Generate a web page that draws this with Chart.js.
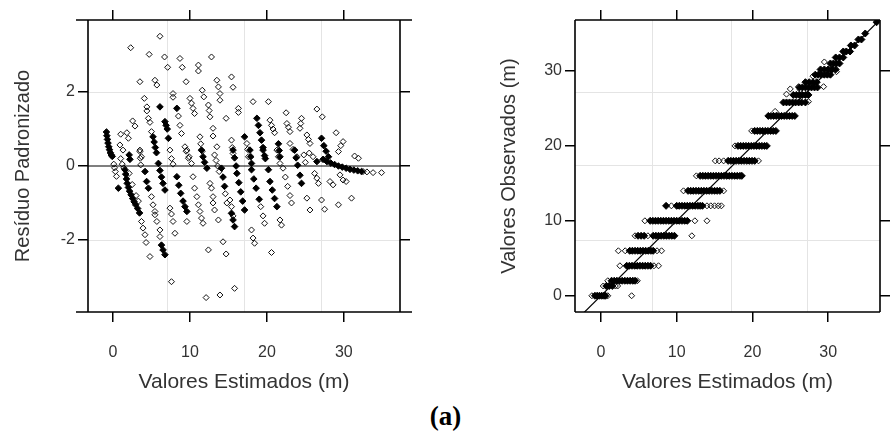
<!DOCTYPE html>
<html lang="pt">
<head>
<meta charset="UTF-8">
<title>Resíduos e valores observados</title>
<script src="https://cdn.jsdelivr.net/npm/chart.js"></script>
<style>
  body { margin: 0; background: #fff; }
  #wrap { position: relative; width: 891px; height: 445px; }
  #left { position: absolute; left: 0; top: 0; }
  #right { position: absolute; left: 445px; top: 0; }
  #caption { position: absolute; left: 0; width: 891px; top: 401px; text-align: center;
             font: bold 27px "Liberation Serif", "Times New Roman", serif; color: #000; }
</style>
</head>
<body>
<div id="wrap">
  <canvas id="left" width="445" height="400"></canvas>
  <canvas id="right" width="446" height="400"></canvas>
  <div id="caption">(a)</div>
</div>

<script>
// ticks and grid positions
const xTicks = [0, 10, 20, 30];
const resTicks = [-2, 0, 2];
const obsTicks = [0, 10, 20, 30];
const resGridX = [7, 17, 27];
const resGridY = [-2, 2];
const obsGridX = [6.8, 17.2, 27.2];
const obsGridY = [7.4, 17.4, 27.2];

// reference lines
const zeroLine = [[-5, 0], [40, 0]];
const oneToOne = [[-5, -5], [40, 40]];

// residuos padronizados: [valor estimado, residuo] (blocos densos)
const resDense = [
  [-0.85,0.92],[-0.8,0.82],[-0.72,0.72],[-0.65,0.62],[-0.55,0.52],[-0.45,0.44],[-0.35,0.36],[-0.22,0.3],[-0.1,0.26],
  [0.7,-0.6],[2.1,0.3],[2.2,0.18],
  [1.55,-0.1],[1.65,-0.22],[1.75,-0.35],[1.85,-0.47],[2.0,-0.58],[2.15,-0.68],[2.35,-0.78],[2.55,-0.88],[2.75,-0.97],[2.95,-1.05],[3.2,-1.15],[3.45,-1.27],
  [4.16,-0.15],[4.37,-0.42],[4.6,-0.6],
  [6.1,1.6],[6.75,1.2],[6.9,1.1],[7.05,1.0],
  [5.2,0.79],[5.35,0.65],[5.5,0.5],[5.65,0.36],[7.2,0.75],[8.3,1.56],
  [5.9,0.07],[6.1,-0.12],[6.3,-0.3],[6.5,-0.47],[6.75,-0.65],
  [6.3,-2.14],[6.5,-2.27],[6.75,-2.4],
  [8.3,-0.29],[8.55,-0.52],[8.8,-0.74],[9.1,-0.95],[9.35,-1.1],[9.6,-1.23],
  [11.5,0.43],[11.7,0.25],[11.9,0.1],[12.2,-0.06],
  [14.1,-0.06],[14.3,-0.3],[14.5,-0.55],
  [15.4,-1.28],[15.6,-1.46],[15.8,-1.64],
  [15.6,0.43],[15.8,0.22],[16.0,0.0],
  [16.1,-0.2],[16.35,-0.45],[16.6,-0.7],[16.85,-0.95],[17.1,-1.19],
  [17.1,0.79],[17.8,0.43],[17.9,0.25],[18.0,0.07],
  [18.7,1.29],[18.9,1.1],[19.1,0.9],[19.3,0.7],[19.5,0.5],[19.7,0.28],
  [18.0,-0.1],[18.3,-0.35],[18.6,-0.6],[19.0,-0.9],
  [19.5,0.43],[19.8,0.2],[20.2,-0.1],
  [20.4,-0.42],[20.7,-0.65],[21.0,-0.88],[21.3,-1.1],
  [21.5,0.6],[21.6,0.42],[21.7,0.25],
  [23.6,0.43],[23.8,0.22],[24.0,0.02],[24.3,-0.25],[24.5,-0.47],
  [27.1,0.75],[27.4,0.55],[27.7,0.4],[28.0,0.25],
  [26.5,0.12],[27.3,0.18],[27.8,0.12],[28.3,0.08],[28.8,0.04],[29.3,0.0],[29.8,-0.03],[30.3,-0.06],[30.8,-0.09],[31.3,-0.11],[31.8,-0.13],[32.3,-0.15]
];

// residuos padronizados: pontos isolados
const resOpen = [
  [6.1,3.51],[2.3,3.2],[4.7,3.02],[6.7,2.95],[7.1,2.67],[8.7,2.91],[9.0,2.67],[11.1,2.73],[11.1,2.57],[12.8,2.95],
  [9.5,2.28],[3.5,2.28],[5.45,2.32],[5.7,2.19],[4.07,1.83],[4.4,1.6],[4.4,1.49],[4.6,1.29],[4.8,1.18],
  [2.55,1.22],[2.86,1.08],[1.0,0.86],[7.8,1.96],[7.8,1.86],[11.6,2.05],[11.8,1.87],
  [13.5,2.32],[13.7,2.14],[13.9,1.96],[13.9,1.78],[15.4,2.41],[15.6,2.13],[13.0,1.02],[13.0,0.81],
  [10.0,1.83],[10.2,1.7],[10.4,1.56],[10.6,1.42],[12.4,1.65],[12.5,1.5],[12.6,1.33],
  [8.5,1.35],[8.7,1.1],[8.9,0.88],[14.7,1.29],[5.0,0.93],
  [16.3,1.56],[16.3,1.45],[18.2,1.74],[20.2,1.74],[22.5,1.44],[26.5,1.54],[27.2,1.33],
  [20.4,1.24],[20.6,1.1],[20.8,1.0],[21.0,0.9],[22.6,1.15],[22.8,1.05],[23.0,0.93],
  [24.5,1.29],[24.4,1.15],[24.3,1.02],[25.2,0.84],[25.4,0.72],[25.6,0.61],
  [29.0,0.9],[29.9,0.66],[29.6,0.55],[29.3,0.39],
  [0.1,0.05],[0.2,-0.05],[0.3,-0.15],[0.45,-0.28],
  [0.9,0.57],[1.3,0.43],[1.0,0.2],[1.2,0.05],[1.4,-0.05],[1.8,0.9],[2.0,0.75],
  [3.5,0.43],[3.7,0.25],[7.4,0.43],[7.6,0.2],[7.8,0.05],[9.35,0.52],[9.5,0.4],[9.8,0.21],
  [11.3,0.79],[11.4,0.6],[11.6,0.4],[13.5,0.52],[13.2,0.3],[13.4,0.15],[13.6,0.0],[13.8,-0.15],
  [15.4,0.7],[15.5,0.5],[15.6,0.34],
  [17.4,0.61],[17.5,0.45],[17.6,0.25],[23.0,0.61],[23.4,0.45],[23.9,0.25],[31.4,0.27],[31.9,0.21],
  [2.1,-0.2],[2.5,-0.5],[3.0,-0.8],[3.3,-0.95],
  [3.5,0.39],[3.55,0.21],[3.6,0.03],
  [5.0,-0.83],[5.2,-1.05],[5.45,-1.23],
  [3.7,-1.5],[3.9,-1.68],[4.16,-1.86],[4.3,-2.07],[4.8,-2.45],
  [5.45,-1.32],[5.7,-1.5],[6.1,-1.73],[6.1,-1.91],
  [7.4,-1.14],[7.6,-1.3],[7.8,-1.5],[8.05,-1.82],[7.6,-3.13],[9.6,-1.5],
  [9.6,0.43],[9.9,0.25],[10.2,0.07],
  [10.4,-0.29],[10.6,-0.6],[10.9,-0.83],[11.1,-1.05],[11.3,-1.23],[11.5,-1.41],[11.7,-1.55],
  [12.6,-0.47],[12.8,-0.6],[13.0,-0.83],[13.0,-1.0],[13.2,-1.19],[13.7,-1.46],
  [12.4,-2.27],[12.1,-3.56],[13.9,-3.49],
  [14.6,-0.75],[14.8,-1.0],[14.3,-2.05],[14.7,-2.38],[15.8,-3.31],
  [15.2,-0.92],[15.4,-1.1],[15.6,-1.35],
  [19.2,-1.1],[19.5,-1.35],[19.7,-1.55],
  [18.0,-1.73],[18.2,-1.95],[18.4,-2.09],[20.6,-2.34],
  [21.7,-1.46],[21.9,-1.6],
  [21.3,0.43],[21.5,0.25],[21.7,0.07],
  [22.1,-0.06],[22.4,-0.3],[22.7,-0.55],[23.0,-0.8],[23.2,-1.0],
  [25.2,-0.87],[25.6,-1.19],
  [26.2,-0.2],[26.5,-0.33],[26.7,-0.47],[27.1,-0.92],[27.5,-1.17],
  [28.2,-0.42],[28.6,-0.51],[29.3,-1.05],[29.5,-0.24],[29.9,-0.38],[30.3,-0.42],[31.0,-0.87],
  [25.5,0.35],[26.0,0.25],[25.0,0.1],[24.8,0.3],
  [32.5,-0.15],[33.0,-0.16],[33.8,-0.18],[34.9,-0.18]
];

// valores observados x estimados: [estimado, observado] (blocos densos)
const obsDense = [
  [-0.8,0],[-0.5,0],[-0.2,0],[0.1,0],[0.4,0],[0.6,0],
  [0.7,1.3],[1.1,1.3],[1.5,1.3],
  [1.4,2],[1.75,2],[2.1,2],[2.45,2],[2.8,2],[3.15,2],[3.5,2],[3.85,2],[4.2,2],[4.5,2],
  [3.4,4],[3.75,4],[4.1,4],[4.45,4],[4.8,4],[5.15,4],[5.5,4],[5.85,4],[6.2,4],[6.55,4],
  [3.8,6],[4.15,6],[4.5,6],[4.85,6],[5.2,6],[5.55,6],[5.9,6],[6.25,6],[6.6,6],[6.9,6],
  [4.9,8],[5.3,8],[5.7,8],[6.9,8],[7.25,8],[7.6,8],[7.95,8],[8.3,8],[8.65,8],[9.0,8],[9.35,8],[9.7,8],
  [6.5,10],[6.85,10],[7.2,10],[7.55,10],[7.9,10],[8.25,10],[8.6,10],[8.95,10],[9.3,10],[9.65,10],[10.0,10],[10.35,10],[10.7,10],[11.05,10],[11.4,10],
  [8.6,12],[10.0,12],[10.35,12],[10.7,12],[11.05,12],[11.4,12],[11.75,12],[12.1,12],[12.45,12],[12.8,12],[13.1,12],[13.4,12],
  [11.5,14],[11.85,14],[12.2,14],[12.55,14],[12.9,14],[13.25,14],[13.6,14],[13.95,14],[14.3,14],[14.65,14],[15.0,14],[15.35,14],[15.7,14],
  [13.1,16],[13.45,16],[13.8,16],[14.15,16],[14.5,16],[14.85,16],[15.2,16],[15.55,16],[15.9,16],[16.25,16],[16.6,16],[16.95,16],[17.3,16],[17.65,16],[18.0,16],[18.35,16],[18.6,16],
  [16.8,18],[17.15,18],[17.5,18],[17.85,18],[18.2,18],[18.55,18],[18.9,18],[19.25,18],[19.6,18],[19.95,18],[20.3,18],
  [18.1,20],[18.45,20],[18.8,20],[19.15,20],[19.5,20],[19.85,20],[20.2,20],[20.55,20],[20.9,20],[21.25,20],[21.6,20],[21.9,20],
  [20.3,22],[20.65,22],[21.0,22],[21.35,22],[21.7,22],[22.05,22],[22.4,22],[22.75,22],[23.1,22],
  [22.1,24],[22.45,24],[22.8,24],[23.15,24],[23.5,24],[23.85,24],[24.2,24],[24.55,24],[24.9,24],[25.25,24],[25.6,24],
  [24.1,25.8],[24.5,25.8],[24.9,25.8],[25.3,25.8],[25.7,25.8],[26.1,25.8],[26.5,25.8],[27.0,25.8],
  [25.4,26.8],[25.8,26.8],[26.2,26.8],[26.6,26.8],[27.0,26.8],[27.4,26.8],
  [26.2,27.8],[26.6,27.8],[27.0,27.8],[27.4,27.8],[27.8,27.8],[28.2,27.8],[28.6,27.8],
  [27.0,28.5],[27.5,28.5],[28.0,28.5],[28.5,28.5],
  [28.3,29.5],[28.7,29.5],[29.1,29.5],[29.5,29.5],[29.9,29.5],[30.3,29.5],
  [29.0,30.2],[29.5,30.2],[30.0,30.2],[30.5,30.2],[31.0,30.2],
  [30.3,31],[30.7,31],[31.1,31],[31.5,31],
  [31.0,31.8],[31.5,31.8],[32.0,31.8],
  [32.0,32.6],[32.4,32.6],[32.9,32.6],
  [33.0,33.4],[33.5,33.4],[34.0,34.2],[34.4,34.2],[34.9,35],[36.4,36.5]
];

// valores observados x estimados: pontos isolados
const obsOpen = [
  [-1.2,0],[0.9,0],[4.05,0],
  [0.3,1.3],[1.9,1.3],[2.2,1.3],
  [0.9,2],[4.8,2],
  [2.5,4],[7.0,4],[7.6,4],
  [2.3,6],[3.2,6],[7.4,6],[8.0,6],
  [4.5,8],[6.2,8],[12.0,8],
  [5.8,10],[12.4,10],[14.0,10],
  [9.3,12],[14.0,12],[14.5,12],[15.0,12],[15.5,12],[15.9,12],
  [10.9,14],[16.2,14],
  [12.6,16],
  [15.1,18],[15.6,18],[16.2,18],[20.8,18],
  [17.7,20],[19.9,22],
  [26.1,27.9],[26.3,27.5],[29.4,27.9],[31.1,29.9],[27.4,25.9],[25.0,27.6],[28.0,29.3],[29.5,31.2],[24.5,26.9],[23.0,24.6]
];

const font = '"Liberation Sans", Arial, sans-serif';
const txt = '#333';

const toXY = arr => arr.map(p => ({ x: p[0], y: p[1] }));

// gray grid under the points, black frame on top
const framePlugin = {
  id: 'frame',
  beforeDatasetsDraw(chart, args, opts) {
    const { ctx, chartArea: a, scales: { x, y } } = chart;
    ctx.save();
    ctx.strokeStyle = '#e4e4e4';
    ctx.lineWidth = 1;
    ctx.beginPath();
    opts.gridX.forEach(v => {
      const p = Math.round(x.getPixelForValue(v)) + 0.5;
      ctx.moveTo(p, a.top); ctx.lineTo(p, a.bottom);
    });
    opts.gridY.forEach(v => {
      const p = Math.round(y.getPixelForValue(v)) + 0.5;
      ctx.moveTo(a.left, p); ctx.lineTo(a.right, p);
    });
    ctx.stroke();
    ctx.restore();
  },
  afterDatasetsDraw(chart, args, opts) {
    const { ctx, chartArea: a } = chart;
    const e = opts.ext || 0;
    ctx.save();
    ctx.strokeStyle = '#000';
    ctx.lineWidth = 1.6;
    ctx.beginPath();
    ctx.moveTo(a.left - e, a.top); ctx.lineTo(a.right + e, a.top);
    ctx.moveTo(a.left - e, a.bottom); ctx.lineTo(a.right + e, a.bottom);
    ctx.moveTo(a.left, a.top); ctx.lineTo(a.left, a.bottom);
    ctx.moveTo(a.right, a.top); ctx.lineTo(a.right, a.bottom);
    ctx.stroke();
    ctx.restore();
  }
};

const tickGrid = { display: true, drawOnChartArea: false, drawTicks: true, tickLength: 10, color: '#000', lineWidth: 1.5 };

function axes(xr, yr, yTicksArr, sizes, yTitle, yTitlePad) {
  const setTicks = vals => s => { s.ticks = vals.map(v => ({ value: v })); };
  return {
    x: {
      type: 'linear', position: 'bottom', min: xr[0], max: xr[1],
      afterBuildTicks: setTicks(xTicks), afterFit: s => { s.height = sizes.bottom; },
      grid: tickGrid, border: { display: false },
      ticks: { padding: 21, color: txt, font: { family: font, size: 16 }, maxRotation: 0, autoSkip: false },
      title: { display: true, text: 'Valores Estimados (m)', color: txt, font: { family: font, size: 21 }, padding: { top: 0, bottom: 5 } }
    },
    x2: {
      type: 'linear', axis: 'x', position: 'top', min: xr[0], max: xr[1],
      afterBuildTicks: setTicks(xTicks), afterFit: s => { s.height = sizes.top; },
      grid: tickGrid, border: { display: false }, ticks: { display: false }
    },
    y: {
      type: 'linear', position: 'left', min: yr[0], max: yr[1],
      afterBuildTicks: setTicks(yTicksArr), afterFit: s => { s.width = sizes.left; },
      grid: tickGrid, border: { display: false },
      ticks: { padding: 3, color: txt, font: { family: font, size: 16 }, autoSkip: false },
      title: { display: true, text: yTitle, color: txt, font: { family: font, size: 20 }, padding: { top: yTitlePad, bottom: 0 } }
    },
    y2: {
      type: 'linear', axis: 'y', position: 'right', min: yr[0], max: yr[1],
      afterBuildTicks: setTicks(yTicksArr), afterFit: s => { s.width = sizes.right; },
      grid: tickGrid, border: { display: false }, ticks: { display: false }
    }
  };
}

function datasets(line, dense, open, denseR) {
  return [
    { type: 'line', data: toXY(line), borderColor: '#000', borderWidth: 1.2, pointRadius: 0, showLine: true, fill: false },
    { data: toXY(dense), pointStyle: 'rectRot', pointRadius: denseR, backgroundColor: '#000', borderColor: '#000', borderWidth: 1 },
    { data: toXY(open), pointStyle: 'rectRot', pointRadius: 3, backgroundColor: 'rgba(255,255,255,0)', borderColor: '#111', borderWidth: 1 }
  ];
}

function baseOptions(scales, gx, gy, ext) {
  return {
    responsive: false, animation: false, devicePixelRatio: 1,
    layout: { padding: 0, autoPadding: false },
    plugins: { legend: { display: false }, tooltip: { enabled: false }, frame: { gridX: gx, gridY: gy, ext: ext } },
    scales: scales
  };
}

new Chart(document.getElementById('left'), {
  type: 'scatter',
  data: { datasets: datasets(zeroLine, resDense, resOpen, 3.3) },
  options: baseOptions(
    axes([-3.25, 37.3], [-3.95, 3.95], resTicks, { left: 88, right: 45, top: 20, bottom: 88 }, 'Resíduo Padronizado', 11),
    resGridX, resGridY, 12),
  plugins: [framePlugin]
});

new Chart(document.getElementById('right'), {
  type: 'scatter',
  data: { datasets: datasets(oneToOne, obsDense, obsOpen, 3.5) },
  options: baseOptions(
    axes([-3.43, 36.85], [-2.17, 36.8], obsTicks, { left: 130, right: 11, top: 20, bottom: 88 }, 'Valores Observados (m)', 52),
    obsGridX, obsGridY, 0),
  plugins: [framePlugin]
});
</script>
</body>
</html>
